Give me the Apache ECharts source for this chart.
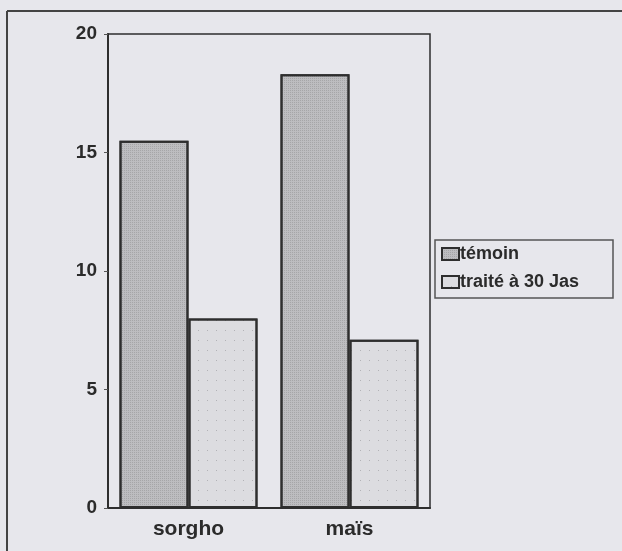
<!DOCTYPE html>
<html>
<head>
<meta charset="utf-8">
<script src="https://cdn.jsdelivr.net/npm/echarts@6/dist/echarts.min.js"></script>
<style>
html,body{margin:0;padding:0;background:#e7e7ec;}
#c{width:622px;height:551px;}
</style>
</head>
<body>
<div id="c"></div>
<script>
var categories = ['sorgho', 'maïs'];
var seriesNames = ['témoin', 'traité à 30 Jas'];
var temoinValues = [15.5, 18.3];
var traiteValues = [8.0, 7.1];
var yTicks = [0, 5, 10, 15, 20];

var chart = echarts.init(document.getElementById('c'), null, {renderer: 'canvas'});
var font = '"Liberation Sans", Arial, sans-serif';
var txt = '#2b2b2b';
chart.setOption({
  backgroundColor: '#e7e7ec',
  animation: false,
  grid: {left: 108, top: 34, width: 322, height: 474, show: true, borderColor: '#2e2e2e', borderWidth: 1.5, backgroundColor: 'transparent'},
  legend: {
    data: seriesNames,
    orient: 'vertical',
    left: 441, top: 245,
    itemWidth: 17, itemHeight: 12, itemGap: 10,
    icon: 'rect',
    textStyle: {fontFamily: font, fontWeight: 'bold', fontSize: 18, color: txt, padding: [0,0,0,-4]},
    padding: 0
  },
  xAxis: {
    type: 'category',
    data: categories,
    axisLine: {show: true, lineStyle: {color: '#2e2e2e', width: 2}},
    axisTick: {show: false},
    axisLabel: {fontFamily: font, fontWeight: 'bold', fontSize: 21, color: txt, margin: 11}
  },
  yAxis: {
    type: 'value',
    min: yTicks[0], max: yTicks[yTicks.length - 1], interval: 5,
    axisLine: {show: true, lineStyle: {color: '#2e2e2e', width: 2}},
    axisTick: {show: true, length: 4, lineStyle: {color: '#555'}},
    splitLine: {show: false},
    axisLabel: {fontFamily: font, fontWeight: 'bold', fontSize: 19, color: txt, margin: 11}
  },
  series: [
    {name: seriesNames[0], type: 'bar', data: temoinValues, barWidth: 69, barGap: '0%',
     itemStyle: {color: '#bdbdc0', borderColor: '#2e2e2e', borderWidth: 2,
       decal: {symbol: 'rect', symbolSize: 1, dashArrayX: [1, 1], dashArrayY: [1, 1], color: 'rgba(0,0,0,0.12)'}}},
    {name: seriesNames[1], type: 'bar', data: traiteValues, barWidth: 69, barGap: '0%',
     itemStyle: {color: '#dcdce0', borderColor: '#2e2e2e', borderWidth: 2,
       decal: {symbol: 'circle', symbolSize: 1, dashArrayX: [1, 8], dashArrayY: [1, 9], color: 'rgba(0,0,0,0.25)'}}}
  ],
  graphic: [
    {type: 'line', shape: {x1: 7, y1: 11, x2: 7, y2: 551}, style: {stroke: '#444', lineWidth: 2}},
    {type: 'line', shape: {x1: 7, y1: 11, x2: 622, y2: 11}, style: {stroke: '#444', lineWidth: 2}},
    {type: 'rect', shape: {x: 435, y: 240, width: 178, height: 58}, style: {fill: 'none', stroke: '#555', lineWidth: 1.5}, z: -1}
  ]
});
</script>
</body>
</html>
